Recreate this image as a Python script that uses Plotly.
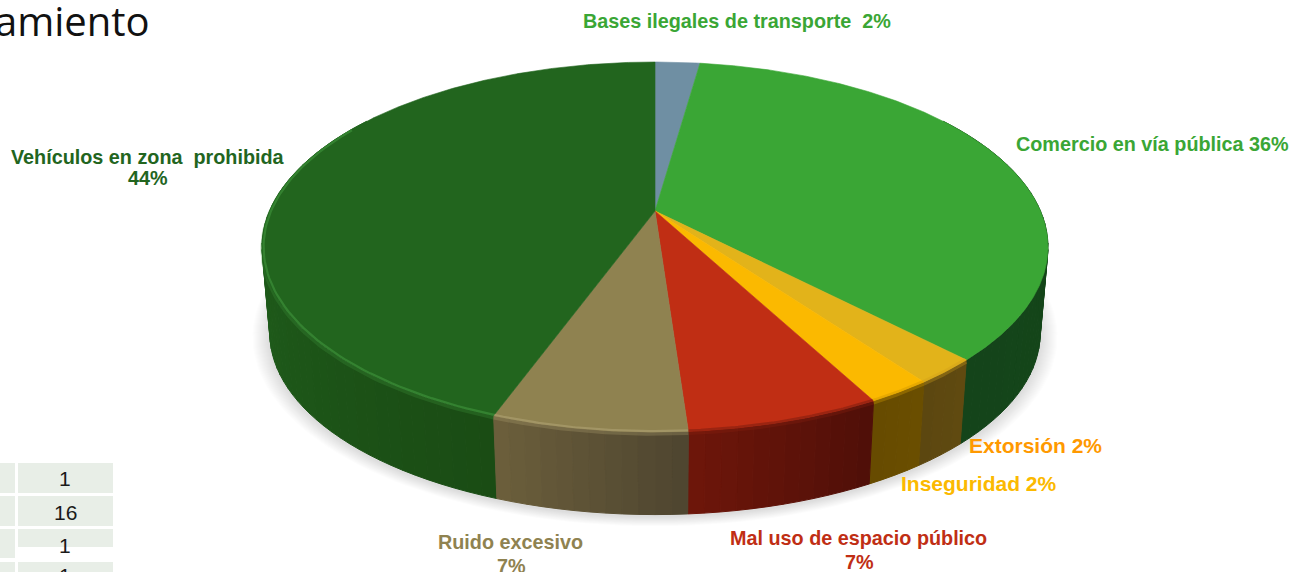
import numpy as np
import plotly.graph_objects as go

# ---------- data ----------
categories = ["Bases ilegales de transporte", "Comercio en vía pública", "Extorsión", "Inseguridad",
              "Mal uso de espacio público", "Ruido excesivo", "Vehículos en zona  prohibida"]
values = [1, 16, 1, 1, 3, 3, 20]
table_values = ["1", "16", "1", "1"]
title_text = "amiento"

top_colors = ["#6f8fa3", "#3aa635", "#e2b31a", "#fbb900", "#c02e14", "#8f8250", "#22651e"]
wall_light = ["#5a7383", "#164a16", "#604a10", "#6b4e00", "#6e160a", "#6c5f3b", "#22661f"]
wall_dark = ["#5a7383", "#14441a", "#5c4710", "#664b00", "#4f0f08", "#4e4530", "#1a4c14"]
rim_colors = [None, None, "#d9a81a", "#e0a400", "#8c2110", "#ab9e6e", "#3c8f39"]
label_colors = ["#3aa635", "#3aa635", "#ff9900", "#fbb900", "#c02e14", "#8f8250", "#22651e"]

# ---------- projection of the pie (perspective disc) ----------
CX, CY = 655, 211
A, B, K = 385.5, 178.0, 0.1946
FLOOR_SCALE, FLOOR_DROP = 0.98, 87


def project(theta_deg, scale=1.0, drop=0.0):
    t = np.radians(theta_deg)
    u, v = np.sin(t), np.cos(t)
    w = 1 + K * v
    return CX + scale * A * u / w, CY + drop - scale * B * v / w


def mix(c1, c2, m):
    a = [int(c1[i:i + 2], 16) for i in (1, 3, 5)]
    b = [int(c2[i:i + 2], 16) for i in (1, 3, 5)]
    return "rgb(%d,%d,%d)" % tuple(round(a[i] + (b[i] - a[i]) * m) for i in range(3))


fig = go.Figure()


def poly(x, y, color, line=0.0):
    fig.add_trace(go.Scatter(x=list(x), y=list(y), mode="lines", fill="toself", fillcolor=color,
                             line=dict(color=color, width=line), hoverinfo="skip", showlegend=False))


# slice angles, clockwise from the top
angles = np.cumsum([0] + values) / sum(values) * 360.0

# soft shadow beneath the pie
ring = np.linspace(0, 360, 181)
for d in range(17, 0, -1):
    sx, sy = project(ring, FLOOR_SCALE + d / 385.0, FLOOR_DROP + 2)
    poly(sx, sy, "rgba(60,60,60,0.013)")

# walls, far strips first
strips = []
for i in range(len(values)):
    a0, a1 = angles[i], angles[i + 1]
    edges = np.arange(a0, a1 + 1e-6, 2.0)
    if edges[-1] < a1:
        edges = np.append(edges, a1)
    for s0, s1 in zip(edges[:-1], edges[1:]):
        mid = (s0 + s1) / 2
        if 55 < mid < 305:
            strips.append((abs(mid - 180), i, s0, s1))
strips.sort(key=lambda s: -s[0])
for _, i, s0, s1 in strips:
    span = max(angles[i + 1] - angles[i], 1e-6)
    m = ((s0 + s1) / 2 - angles[i]) / span
    if i == 6:
        m = min(1.0, m * 1.6)
    # the wall darkens toward the right of each slice
    color = mix(wall_dark[i], wall_light[i], m) if i >= 4 else mix(wall_light[i], wall_dark[i], m)
    xa, ya = project(np.array([s0, s1]))
    xb, yb = project(np.array([s1, s0]), FLOOR_SCALE, FLOOR_DROP)
    poly(np.r_[xa, xb, xa[0]], np.r_[ya, yb, ya[0]], color, 1.0)

# soft bevel on the upper part of the wall
for i, c in enumerate(rim_colors):
    if c is None:
        continue
    lo, hi = angles[i], min(angles[i + 1], 280)
    arc = np.linspace(lo, hi, 80)
    rx, ry = project(arc, 0.999, 2)
    fig.add_trace(go.Scatter(x=rx, y=ry, mode="lines", line=dict(color=c, width=4), opacity=0.3,
                             hoverinfo="skip", showlegend=False))

# top faces
for i in range(len(values)):
    arc = np.linspace(angles[i], angles[i + 1], max(int(values[i] * 8) * 3, 12))
    ax_, ay_ = project(arc)
    poly(np.r_[CX, ax_, CX], np.r_[CY, ay_, CY], top_colors[i], 0.6)

# bevel highlight along the near rim
for i, c in enumerate(rim_colors):
    if c is None:
        continue
    lo, hi = angles[i], min(angles[i + 1], 300)
    arc = np.linspace(lo, hi, 80)
    rx, ry = project(arc, 0.996, 0)
    fig.add_trace(go.Scatter(x=rx, y=ry, mode="lines", line=dict(color=c, width=2.2), opacity=0.7,
                             hoverinfo="skip", showlegend=False))

# ---------- table fragment ----------
table_rows = [(463, 493), (496, 526), (529, 558), (562, 572)]
for r, (y0, y1) in enumerate(table_rows):
    fig.add_shape(type="rect", x0=-5, x1=15, y0=y0, y1=y1, fillcolor="#e8eee7", line_width=0, layer="below")
    fig.add_shape(type="rect", x0=18, x1=113, y0=y0, y1=547 if r == 2 else y1, fillcolor="#e8eee7",
                  line_width=0, layer="below")

annotations = []


def note(text, x, y, color, size, family="Liberation Sans", bold=True, xanchor="center", yshift=0):
    annotations.append(dict(text=f"<b>{text}</b>" if bold else text, x=x, y=y, xref="x", yref="y",
                            showarrow=False, xanchor=xanchor, yanchor="middle", yshift=yshift,
                            font=dict(color=color, size=size, family=family)))


pct = [round(v / sum(values) * 100) for v in values]
sp = "\u00a0"
LBL = 19.8
note(categories[0] + sp + sp + f"{pct[0]}%", 737, 21, label_colors[0], LBL)
note(categories[1] + f" {pct[1]}%", 1152, 144, label_colors[1], LBL)
note(categories[2] + f" {pct[2]}%", 1035, 445, label_colors[2], 21)
note(categories[3] + f" {pct[3]}%", 979, 483, label_colors[3], 21)
note(categories[4], 858, 538, label_colors[4], LBL)
note(f"{pct[4]}%", 859, 562, label_colors[4], LBL)
note(categories[5], 510, 542, label_colors[5], LBL)
note(f"{pct[5]}%", 511, 566, label_colors[5], LBL)
note(categories[6].replace("  ", sp + sp), 148, 157, label_colors[6], LBL)
note(f"{pct[6]}%", 148, 178, label_colors[6], LBL)

note(title_text, 152, 20, "#111111", 40, family="Open Sans", bold=False, xanchor="right")
for t, y, ys in zip(table_values, [478, 512, 545, 571], [0, 0, 0, -4]):
    note(t, 65, y, "#1a1a1a", 21, bold=False, yshift=ys)

fig.update_layout(
    width=1292, height=572, margin=dict(l=0, r=0, t=0, b=0),
    paper_bgcolor="white", plot_bgcolor="white", showlegend=False,
    xaxis=dict(range=[0, 1292], visible=False, fixedrange=True),
    yaxis=dict(range=[572, 0], visible=False, fixedrange=True),
    annotations=annotations,
)
fig.write_html("out.html", config={"displayModeBar": False},
               post_script="document.body.style.margin='0';document.body.style.overflow='hidden';")
